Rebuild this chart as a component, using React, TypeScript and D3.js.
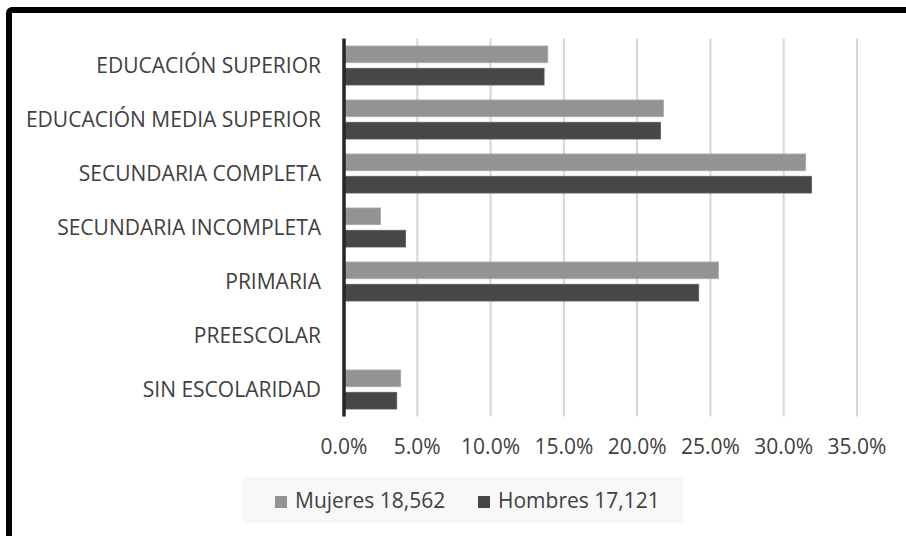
import React from 'react';
import * as d3 from 'd3';

// nivel de escolaridad, de arriba hacia abajo
const categorias = [
  'EDUCACIÓN SUPERIOR',
  'EDUCACIÓN MEDIA SUPERIOR',
  'SECUNDARIA COMPLETA',
  'SECUNDARIA INCOMPLETA',
  'PRIMARIA',
  'PREESCOLAR',
  'SIN ESCOLARIDAD',
];
const mujeres = [0.139, 0.218, 0.315, 0.025, 0.2555, 0.0, 0.0387];
const hombres = [0.1365, 0.216, 0.319, 0.042, 0.242, 0.0, 0.036];
const series = ['Mujeres 18,562', 'Hombres 17,121'];
const ticks = [0, 0.05, 0.1, 0.15, 0.2, 0.25, 0.3, 0.35];

const W = 906;
const H = 536;
const colores = ['#939393', '#474747'];
const texto = '#404040';
const fuente = "'Open Sans', 'DejaVu Sans', sans-serif";

export default function App() {
  const x = d3.scaleLinear().domain([0, 0.35]).range([344, 857]);
  const y = d3.scaleBand<string>().domain(categorias).range([38.5, 416.5]);
  const ySerie = d3
    .scaleBand<number>()
    .domain([0, 1])
    .range([0, y.bandwidth()])
    .paddingInner(0.25)
    .paddingOuter(0.335);
  const fmt = d3.format('.1%');
  const valores = [mujeres, hombres];

  return (
    <svg
      width={W}
      height={H}
      style={{ position: 'absolute', left: 0, top: 0, background: '#fff' }}
      fontFamily={fuente}
    >
      {/* lineas de cuadricula */}
      {ticks.slice(1).map((t) => (
        <line key={t} x1={x(t)} x2={x(t)} y1={38.5} y2={416.5} stroke="#d6d6d6" strokeWidth={2} />
      ))}

      {/* barras */}
      {valores.map((vals, s) =>
        vals.map((v, i) =>
          v > 0 ? (
            <rect
              key={s + '-' + i}
              x={x(0)}
              y={(y(categorias[i]) as number) + (ySerie(s) as number)}
              width={x(v) - x(0)}
              height={ySerie.bandwidth()}
              fill={colores[s]}
              stroke={s === 0 ? '#a9a9a9' : '#5a5a5a'}
              strokeWidth={0.8}
            />
          ) : null
        )
      )}

      {/* eje vertical */}
      <line x1={x(0)} x2={x(0)} y1={38.5} y2={416.5} stroke="#262626" strokeWidth={3.5} />

      {/* etiquetas de categoria */}
      {categorias.map((c) => (
        <text
          key={c}
          x={321}
          y={(y(c) as number) + y.bandwidth() / 2 + 7.5}
          textAnchor="end"
          fontSize={21}
          fill={texto}
        >
          {c}
        </text>
      ))}

      {/* etiquetas del eje x */}
      {ticks.map((t) => (
        <text key={t} x={x(t)} y={454} textAnchor="middle" fontSize={21} fill={texto}>
          {fmt(t)}
        </text>
      ))}

      {/* leyenda */}
      <rect x={242} y={477} width={441} height={46} fill="#f8f8f8" />
      {series.map((s, i) => (
        <g key={s} transform={`translate(${i === 0 ? 275 : 478},0)`}>
          <rect x={0} y={496} width={12} height={12} fill={colores[i]} />
          <text x={20} y={508} fontSize={21} fill={texto}>
            {s}
          </text>
        </g>
      ))}

      {/* marco */}
      <rect x={9} y={10} width={W + 10} height={H + 10} rx={3} fill="none" stroke="#000" strokeWidth={6} />
    </svg>
  );
}
